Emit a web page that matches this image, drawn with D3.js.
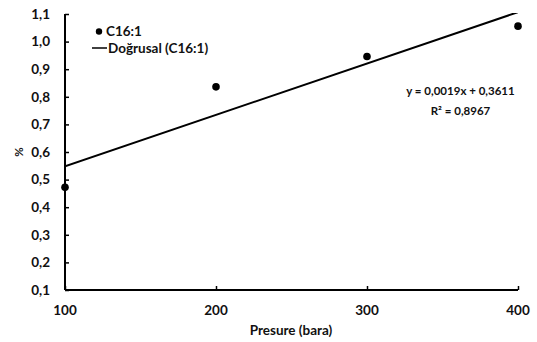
<!DOCTYPE html>
<html>
<head>
<meta charset="utf-8">
<script src="https://cdn.jsdelivr.net/npm/d3@7"></script>
<style>
  html, body { margin: 0; padding: 0; background: #fff; }
  svg text { font-family: Lato, "Open Sans", sans-serif; font-weight: bold; fill: #111; }
</style>
</head>
<body>
<svg id="chart" width="537" height="342"></svg>
<script>
// C16:1 content (%) against pressure (bara)
const pressures = [100, 200, 300, 400];
const c16Values = [0.472, 0.836, 0.946, 1.056];
const xTicks = [100, 200, 300, 400];
const yTicks = [0.1, 0.2, 0.3, 0.4, 0.5, 0.6, 0.7, 0.8, 0.9, 1.0, 1.1];
const seriesName = "C16:1";
const trendName = "Doğrusal (C16:1)";
const equationLines = ["y = 0,0019x + 0,3611", "R² = 0,8967"];

const svg = d3.select("#chart");
const plot = { left: 65, right: 518, top: 14, bottom: 290 };

const x = d3.scaleLinear().domain([100, 400]).range([plot.left, plot.right]);
const y = d3.scaleLinear().domain([0.1, 1.1]).range([plot.bottom, plot.top]);
const fmt = v => d3.format(".1f")(v).replace(".", ",");

// Least-squares linear trend through the points
const mx = d3.mean(pressures), my = d3.mean(c16Values);
const slope = d3.sum(pressures, (p, i) => (p - mx) * (c16Values[i] - my)) /
              d3.sum(pressures, p => (p - mx) ** 2);
const intercept = my - slope * mx;

svg.append("defs").append("clipPath").attr("id", "plotClip")
  .append("rect")
  .attr("x", plot.left).attr("y", plot.top - 1)
  .attr("width", plot.right - plot.left).attr("height", plot.bottom - plot.top + 1);

// Axes: ticks point into the plot area
const yAxis = svg.append("g")
  .attr("transform", `translate(${plot.left},0)`)
  .call(d3.axisRight(y).tickValues(yTicks).tickSize(4).tickFormat(""));
const xAxis = svg.append("g")
  .attr("transform", `translate(0,${plot.bottom})`)
  .call(d3.axisTop(x).tickValues(xTicks).tickSize(4).tickFormat(""));
[yAxis, xAxis].forEach(g => {
  g.select(".domain").attr("stroke", "#000").attr("stroke-width", 2);
  g.selectAll(".tick line").attr("stroke", "#000").attr("stroke-width", 1.5);
});
yAxis.select(".domain").attr("d", `M0,${plot.top}V${plot.bottom}`);
xAxis.select(".domain").attr("d", `M${plot.left},0H${plot.right}`);

// Tick labels
svg.append("g").selectAll("text").data(yTicks).join("text")
  .attr("x", 50).attr("y", d => y(d)).attr("dy", "0.35em")
  .attr("text-anchor", "end").attr("font-size", 13.5)
  .text(fmt);
svg.append("g").selectAll("text").data(xTicks).join("text")
  .attr("x", d => x(d)).attr("y", 315)
  .attr("text-anchor", "middle").attr("font-size", 13.5)
  .text(d => d);

// Axis titles
svg.append("text").attr("x", 291).attr("y", 335)
  .attr("text-anchor", "middle").attr("font-size", 13.5)
  .text("Presure (bara)");
svg.append("text")
  .attr("transform", `translate(19,152) rotate(-90)`)
  .attr("dy", "0.35em").attr("text-anchor", "middle").attr("font-size", 11.5)
  .text("%");

// Trendline
svg.append("line")
  .attr("clip-path", "url(#plotClip)")
  .attr("x1", x(100)).attr("y1", y(slope * 100 + intercept))
  .attr("x2", x(400)).attr("y2", y(slope * 400 + intercept))
  .attr("stroke", "#000").attr("stroke-width", 2);

// Data points
svg.append("g").selectAll("circle").data(pressures).join("circle")
  .attr("cx", d => x(d)).attr("cy", (d, i) => y(c16Values[i]))
  .attr("r", 3.8).attr("fill", "#000");

// Legend
const legend = svg.append("g");
legend.append("circle").attr("cx", 99).attr("cy", 31.5).attr("r", 3.2).attr("fill", "#000");
legend.append("text").attr("x", 106).attr("y", 36).attr("font-size", 13.5).text(seriesName);
legend.append("line").attr("x1", 92).attr("x2", 107).attr("y1", 48).attr("y2", 48)
  .attr("stroke", "#000").attr("stroke-width", 1.5);
legend.append("text").attr("x", 108).attr("y", 52.5).attr("font-size", 13.5).text(trendName);

// Regression equation
svg.append("g").selectAll("text").data(equationLines).join("text")
  .attr("x", 460.5).attr("y", (d, i) => 95 + i * 19.5)
  .attr("text-anchor", "middle").attr("font-size", 11.5)
  .text(d => d);
</script>
</body>
</html>
